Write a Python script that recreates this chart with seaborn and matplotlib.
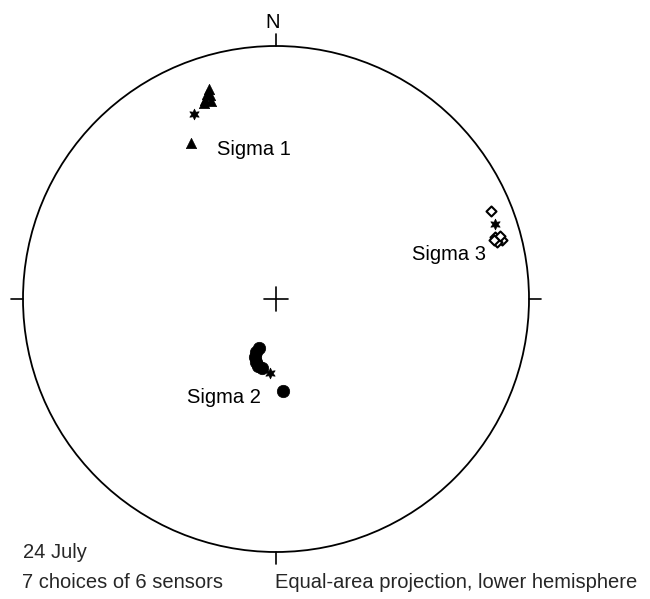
import numpy as np
import pandas as pd
import matplotlib
matplotlib.use("Agg")
import matplotlib.pyplot as plt
import seaborn as sns
from matplotlib.patches import Circle

sns.set_theme(style="white")
plt.rcParams['font.family'] = ['Liberation Sans', 'DejaVu Sans']

# Equal-area projection coordinates (unit circle)
sigma1_x = [-0.265, -0.273, -0.261, -0.281, -0.257, -0.285, -0.336]
sigma1_y = [0.830, 0.810, 0.806, 0.787, 0.783, 0.775, 0.617]
sigma2_x = [-0.067, -0.079, -0.083, -0.079, -0.071, -0.055, 0.028]
sigma2_y = [-0.194, -0.209, -0.229, -0.249, -0.265, -0.273, -0.364]
sigma3_x = [0.850, 0.866, 0.877, 0.893, 0.874, 0.885, 0.862]
sigma3_y = [0.348, 0.245, 0.237, 0.233, 0.225, 0.249, 0.233]
# all-sensor solutions (stars)
star_x = [-0.324, -0.024, 0.866]
star_y = [0.731, -0.292, 0.296]

labels = ["Sigma 1", "Sigma 2", "Sigma 3"]
label_x = [-0.233, -0.059, 0.538]
label_y = [0.589, -0.391, 0.174]

df1 = pd.DataFrame({"x": sigma1_x, "y": sigma1_y})
df2 = pd.DataFrame({"x": sigma2_x, "y": sigma2_y})
df3 = pd.DataFrame({"x": sigma3_x, "y": sigma3_y})
dfs = pd.DataFrame({"x": star_x, "y": star_y})

fig = plt.figure(figsize=(6.5, 5.99), dpi=100)
ax = fig.add_axes([23/650, 47/599, 506/650, 506/599])
ax.set_xlim(-1, 1)
ax.set_ylim(-1, 1)
ax.axis("off")

# primitive circle
ax.add_patch(Circle((0, 0), 1, fill=False, lw=1.3, color="black", clip_on=False))
t = 0.048
for (x0, y0, x1, y1) in [(0, 1, 0, 1 + t), (0, -1, 0, -1 - t), (-1, 0, -1 - t, 0), (1, 0, 1 + t, 0)]:
    ax.plot([x0, x1], [y0, y1], color="black", lw=1.2, clip_on=False)
c = 0.047
ax.plot([-c, c], [0, 0], color="black", lw=1.2)
ax.plot([0, 0], [-c, c], color="black", lw=1.2)

sns.scatterplot(data=df1, x="x", y="y", ax=ax, marker="^", s=55, color="black",
                edgecolor="black", linewidth=0.5, legend=False)
sns.scatterplot(data=df2, x="x", y="y", ax=ax, marker="o", s=80, color="black",
                edgecolor="black", linewidth=0.5, legend=False)
sns.scatterplot(data=df3, x="x", y="y", ax=ax, marker="D", s=26, facecolor="white",
                edgecolor="black", linewidth=1.5, legend=False)
sns.scatterplot(data=dfs, x="x", y="y", ax=ax, marker=(6, 1, 0), s=60, color="black",
                edgecolor="black", linewidth=0.5, legend=False, zorder=5)

fs = 14.5
for lab, lx, ly in zip(labels, label_x, label_y):
    ha = "right" if lab == "Sigma 2" else "left"
    ax.text(lx, ly, lab, ha=ha, va="center", fontsize=fs, color="black")
ax.text(-0.012, 1.091, "N", ha="center", va="center", fontsize=fs, color="black", clip_on=False)

fig.text(23/650, 1 - 553/599, "24 July", ha="left", va="center", fontsize=fs)
fig.text(22/650, 1 - 582/599, "7 choices of 6 sensors", ha="left", va="center", fontsize=fs)
fig.text(275/650, 1 - 582/599, "Equal-area projection, lower hemisphere", ha="left", va="center", fontsize=fs)

fig.savefig("out.png", dpi=100, facecolor="white")
